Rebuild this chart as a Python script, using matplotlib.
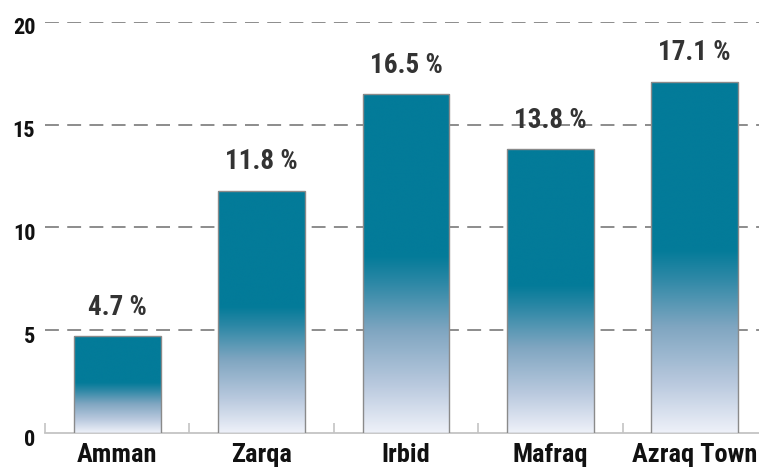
import matplotlib
matplotlib.use("Agg")
import matplotlib.pyplot as plt
import numpy as np
from matplotlib.colors import LinearSegmentedColormap
from matplotlib.transforms import ScaledTranslation
from matplotlib import font_manager

regions = ["Amman", "Zarqa", "Irbid", "Mafraq", "Azraq Town"]
values = [4.7, 11.8, 16.5, 13.8, 17.1]
yticks = [0, 5, 10, 15, 20]

plt.rcParams['lines.scale_dashes'] = False
names = {f.name for f in font_manager.fontManager.ttflist}
FONT = [n for n in ['Liberation Sans Narrow', 'Roboto Condensed', 'Roboto'] if n in names] + ['DejaVu Sans']

fig = plt.figure(figsize=(7.59, 4.69), dpi=100)
ax = fig.add_axes([45/759, 36/469, (767-45)/759, (433-22)/469])

cmap = LinearSegmentedColormap.from_list(
    "grad",
    [(0.0, "#eef1f9"), (0.14, "#b9c9de"), (0.3, "#80a6c1"),
     (0.44, "#2d88a6"), (0.52, "#037b99"), (1.0, "#037b99")])

x = np.arange(len(regions))
width = 0.6
bars = ax.bar(x, values, width=width, facecolor='none', edgecolor='#8a8a8a',
              linewidth=1.0, zorder=4)
grad = np.linspace(1, 0, 256).reshape(-1, 1)
for b in bars:
    x0, w, h = b.get_x(), b.get_width(), b.get_height()
    im = ax.imshow(grad, cmap=cmap, vmin=0, vmax=1, aspect='auto',
                   extent=[x0, x0 + w, 0, h], zorder=3, interpolation='bicubic')
    im.set_clip_path(b)

for xi, v in zip(x, values):
    ax.annotate(f"{v:.1f} %", (xi, v), xytext=(0, 11), textcoords='offset points',
                ha='center', va='bottom', fontsize=19.5, fontweight='bold',
                family=FONT, color='#333333', zorder=5)

ax.set_xlim(-0.5, len(regions) - 0.5)
ax.set_ylim(0, 20)

for yv in yticks[1:]:
    ax.axhline(yv, color='#8c8c8c', linewidth=1.4, dashes=(10, 6), zorder=1)

for s in ['top', 'right', 'left']:
    ax.spines[s].set_visible(False)
ax.spines['bottom'].set_color('#c4c4c4')
ax.spines['bottom'].set_linewidth(1.3)

ax.set_xticks(x)
ax.set_xticklabels(regions, fontsize=19, fontweight='bold', family=FONT, color='#111111')
ax.tick_params(axis='x', length=0, pad=7)
ax.set_xticks(np.arange(-0.5, len(regions), 1), minor=True)
ax.tick_params(axis='x', which='minor', direction='in', length=7, width=1.2, color='#c4c4c4')

ax.set_yticks(yticks)
ax.set_yticklabels([str(t) for t in yticks], fontsize=16, fontweight='bold', family=FONT, color='#111111')
ax.tick_params(axis='y', length=0, pad=7)
off = ScaledTranslation(0, -4/100, fig.dpi_scale_trans)
for lab in ax.get_yticklabels():
    lab.set_transform(lab.get_transform() + off)

fig.savefig("out.png", dpi=100)
